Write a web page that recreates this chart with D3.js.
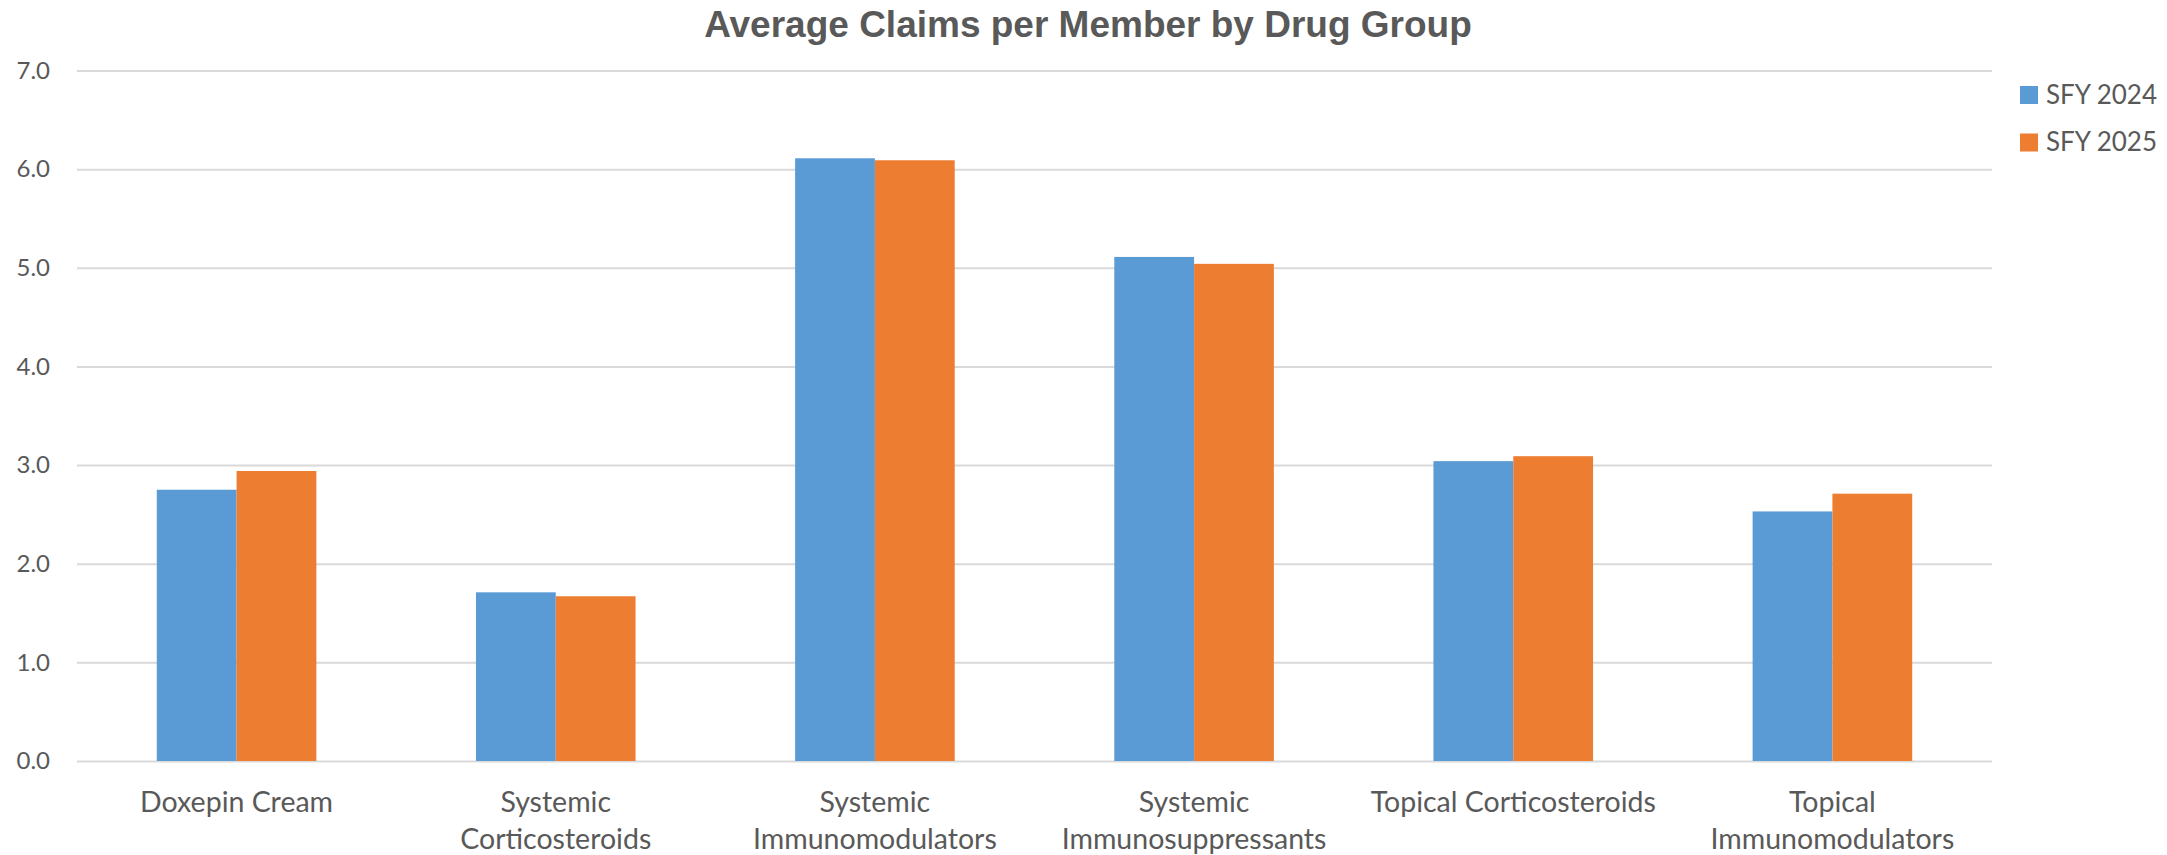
<!DOCTYPE html>
<html>
<head>
<meta charset="utf-8">
<script src="https://cdn.jsdelivr.net/npm/d3@7"></script>
<style>
  body { margin: 0; background: #fff; }
  text { fill: #595959; }
</style>
</head>
<body>
<div id="chart"></div>
<script>
// data
var categories = ["Doxepin Cream", "Systemic Corticosteroids", "Systemic Immunomodulators",
                  "Systemic Immunosuppressants", "Topical Corticosteroids", "Topical Immunomodulators"];
var tickLabels = [["Doxepin Cream"], ["Systemic", "Corticosteroids"], ["Systemic", "Immunomodulators"],
                  ["Systemic", "Immunosuppressants"], ["Topical Corticosteroids"], ["Topical", "Immunomodulators"]];
var seriesNames = ["SFY 2024", "SFY 2025"];
var sfy2024 = [2.75, 1.71, 6.11, 5.11, 3.04, 2.53];
var sfy2025 = [2.94, 1.67, 6.09, 5.04, 3.09, 2.71];
var yTicks = [0, 1, 2, 3, 4, 5, 6, 7];

var width = 2167, height = 855;
var plotLeft = 77, plotRight = 1992, plotTop = 70.5, plotBottom = 761;
var colors = ["#5B9BD5", "#ED7D31"];

var svg = d3.select("#chart").append("svg")
    .attr("width", width)
    .attr("height", height);

var x = d3.scaleBand()
    .domain(categories)
    .range([plotLeft, plotRight])
    .paddingInner(0.5)
    .paddingOuter(0.25);

var xs = d3.scaleBand()
    .domain(seriesNames)
    .range([0, x.bandwidth()]);

var y = d3.scaleLinear()
    .domain([0, 7])
    .range([plotBottom, plotTop]);

// gridlines + y labels
var yAxis = svg.append("g")
    .attr("transform", "translate(" + plotLeft + ",0)")
    .call(d3.axisLeft(y).tickValues(yTicks).tickFormat(d3.format(".1f"))
          .tickSize(-(plotRight - plotLeft)).tickPadding(27));
yAxis.select(".domain").remove();
yAxis.selectAll(".tick line").attr("stroke", "#d9d9d9").attr("stroke-width", 2);
yAxis.selectAll(".tick text")
    .style("font-family", "Lato")
    .style("font-size", "24px")
    .attr("fill", "#595959");

// bars
var rows = categories.map(function(c, i) {
    return { cat: c, vals: [sfy2024[i], sfy2025[i]] };
});

var groups = svg.selectAll(".grp")
    .data(rows)
    .enter().append("g")
    .attr("class", "grp")
    .attr("transform", function(d) { return "translate(" + x(d.cat) + ",0)"; });

groups.selectAll("rect")
    .data(function(d) { return d.vals.map(function(v, j) { return { s: seriesNames[j], v: v, j: j }; }); })
    .enter().append("rect")
    .attr("x", function(d) { return xs(d.s); })
    .attr("y", function(d) { return y(d.v); })
    .attr("width", xs.bandwidth())
    .attr("height", function(d) { return y(0) - y(d.v); })
    .attr("fill", function(d) { return colors[d.j]; });

// x labels
var xl = svg.selectAll(".xlab")
    .data(categories)
    .enter().append("text")
    .attr("class", "xlab")
    .attr("text-anchor", "middle")
    .style("font-family", "Lato")
    .style("font-size", "28.5px");

xl.selectAll("tspan")
    .data(function(d, i) { return tickLabels[i].map(function(t) { return { t: t, c: d }; }); })
    .enter().append("tspan")
    .attr("x", function(d) { return x(d.c) + x.bandwidth() / 2; })
    .attr("y", function(d, k) { return 811.5 + k * 37.5; })
    .text(function(d) { return d.t; });

// title
svg.append("text")
    .attr("x", 1088)
    .attr("y", 37)
    .attr("text-anchor", "middle")
    .style("font-family", "Liberation Sans")
    .style("font-weight", "bold")
    .style("font-size", "37px")
    .text("Average Claims per Member by Drug Group");

// legend
var legend = svg.selectAll(".leg")
    .data(seriesNames)
    .enter().append("g")
    .attr("class", "leg")
    .attr("transform", function(d, i) { return "translate(2020," + (86 + i * 47.5) + ")"; });

legend.append("rect")
    .attr("width", 18)
    .attr("height", 18)
    .attr("fill", function(d, i) { return colors[i]; });

legend.append("text")
    .attr("x", 26)
    .attr("y", 17.5)
    .style("font-family", "Lato")
    .style("font-size", "26px")
    .text(function(d) { return d; });
</script>
</body>
</html>
